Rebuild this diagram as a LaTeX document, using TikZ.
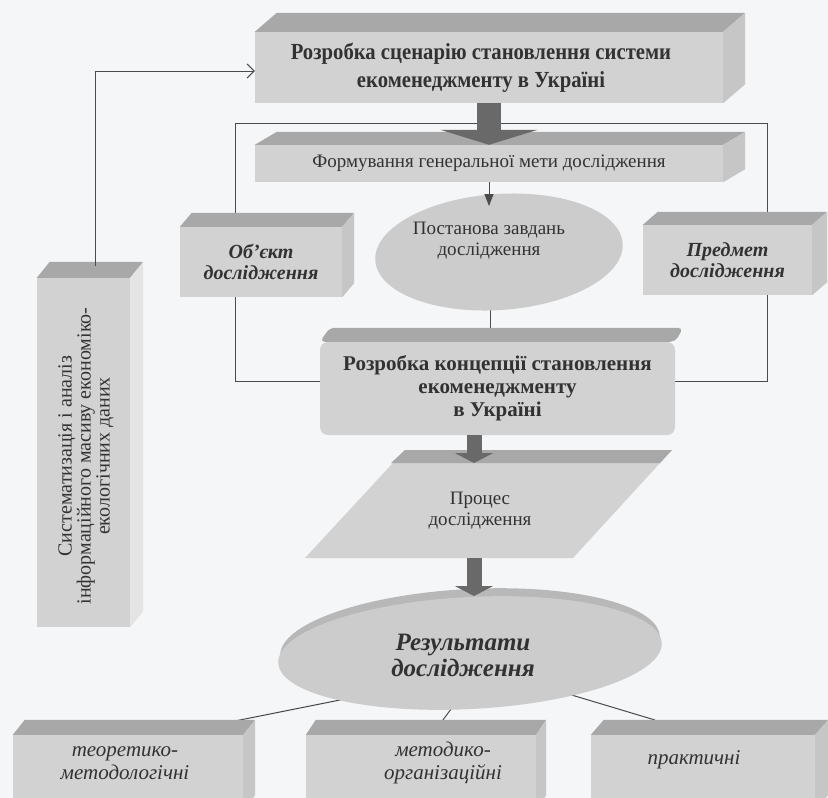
\documentclass[tikz,border=0pt]{standalone}
\usepackage{fontspec}
\setmainfont{Liberation Serif}
\newfontfamily\condserif[FakeStretch=0.9]{Liberation Serif}
\usetikzlibrary{arrows.meta,shapes.geometric}
\pgfdeclarelayer{bglayer}
\pgfdeclarelayer{linelayer}
\pgfsetlayers{bglayer,linelayer,main}
\definecolor{bgc}{RGB}{245,246,248}
\definecolor{frontc}{RGB}{210,210,210}
\definecolor{topc}{RGB}{168,168,168}
\definecolor{sidec}{RGB}{198,198,198}
\definecolor{sidelight}{RGB}{228,228,228}
\definecolor{ink}{RGB}{50,50,50}
\definecolor{linec}{RGB}{75,75,75}
\definecolor{arrowc}{RGB}{105,105,105}
\definecolor{ellc}{RGB}{204,204,204}
\definecolor{ellrim}{RGB}{184,184,184}
\newcommand\boxfaces[4]{%
  \fill[topc] (#1.north west) -- ++(#2,-#3) -- ([shift={(#2,-#3)}]#1.north east) -- (#1.north east) -- cycle;
  \fill[#4] (#1.north east) -- ++(#2,-#3) -- ([shift={(#2,-#3)}]#1.south east) -- (#1.south east) -- cycle;}
\newcommand\ftitle{\condserif\fontsize{23pt}{28pt}\selectfont\bfseries}
\newcommand\fbold{\fontsize{21pt}{23pt}\selectfont\bfseries}
\newcommand\freg{\fontsize{19pt}{21pt}\selectfont}
\newcommand\fside{\fontsize{20pt}{19pt}\selectfont}
\newcommand\fbi{\fontsize{20pt}{21pt}\selectfont\bfseries\itshape}
\newcommand\fbig{\fontsize{25pt}{26pt}\selectfont\bfseries\itshape}
\newcommand\fit{\fontsize{21pt}{23pt}\selectfont\itshape}
\tikzset{
  frontbox/.style={fill=frontc, inner sep=0pt, text=ink, align=center},
  txt/.style={text=ink, align=center, inner sep=0pt},
  thinline/.style={draw=linec, line width=1pt},
  bigarrow/.style={draw=arrowc, line width=24pt, -{Triangle[width=97pt,length=15pt]}},
  midarrow/.style={draw=arrowc, line width=15pt, -{Triangle[width=38pt,length=10pt]}},
  ellfill/.style={ellipse, fill=ellc, inner sep=0pt}
}
\begin{document}
\begin{tikzpicture}[x=1pt,y=-1pt]
\begin{pgfonlayer}{bglayer}
  \fill[bgc] (0,0) rectangle (828,798);
\end{pgfonlayer}
\useasboundingbox (0,0) rectangle (828,798);

% coordinates
\coordinate (fTL) at (235,123);
\coordinate (fTR) at (767,123);
\coordinate (fBL) at (235,381);
\coordinate (fBR) at (767,381);
\coordinate (tasktop) at (489,206);
\coordinate (taskbot) at (490,300);
\coordinate (pA) at (305,558);
\coordinate (pB) at (573,558);
\coordinate (pC) at (672,450);
\coordinate (pD) at (405,450);
\coordinate (proctop) at (474,463);
\coordinate (procbot) at (474,558);
\coordinate (restop) at (474,596);
\coordinate (r1) at (365,695);
\coordinate (r2) at (454,705);
\coordinate (r3) at (565,693);
\coordinate (b1t) at (230,722);
\coordinate (b2t) at (440,724);
\coordinate (b3t) at (655,720);

% top box
\node[frontbox, minimum width=468pt, minimum height=71pt, font=\ftitle] (title) at (489,67.5)
  {\makebox[0pt]{\hspace*{-16pt}Розробка сценарію становлення системи}\\\makebox[0pt]{\hspace*{-16pt}екоменеджменту в Україні}};
\boxfaces{title}{22}{19}{sidec}

% goal bar
\node[frontbox, minimum width=468pt, minimum height=37pt, font=\freg] (goal) at (489,163.5)
  {Формування генеральної мети дослідження};
\boxfaces{goal}{22}{13}{sidec}

% object / subject boxes
\node[frontbox, minimum width=162pt, minimum height=70pt, font=\fbi] (obj) at (261,262)
  {Об’єкт\\дослідження};
\boxfaces{obj}{12}{14}{sidec}
\node[frontbox, minimum width=169pt, minimum height=70pt, font=\fbi] (pred) at (727.5,260)
  {Предмет\\дослідження};
\boxfaces{pred}{15}{13}{sidec}

% task ellipse
\node[ellfill, minimum width=248pt, minimum height=116pt, rotate=4] (task) at (499,252) {};
\node[txt, font=\freg] (tasktxt) at (489,241) {Постанова завдань\\дослідження};

% concept box
\node[frontbox, rounded corners=8pt, minimum width=355pt, minimum height=93pt, font=\fbold] (konc) at (497.5,388.5)
  {Розробка концепції становлення\\екоменеджменту\\в Україні};
\fill[topc, rounded corners=5pt] (konc.north west) -- ++(10,-14) -- ([shift={(8,-14)}]konc.north east) -- (konc.north east) -- cycle;

% system box (left)
\node[frontbox, minimum width=93pt, minimum height=349pt] (sys) at (83.5,452.5) {};
\boxfaces{sys}{13}{16}{sidelight}
\node[txt, font=\fside, rotate=90] (systxt) at (86,456)
  {Систематизація і аналіз\\інформаційного масиву економіко-\\екологічних даних};

% process parallelogram
\fill[frontc] (pA) -- (pB) -- (pC) -- (pD) -- cycle;
\fill[topc] (pD) -- (pC) -- (660,463) -- (391,463) -- cycle;
\node[txt, font=\freg] (proc) at (480,511) {Процес\\дослідження};

% results ellipse
\fill[ellrim, rotate around={3:(470,646)}] (470,646) ellipse (190pt and 57pt);
\node[ellfill, minimum width=384pt, minimum height=112pt, rotate=3] (res) at (470,653) {};
\node[txt, font=\fbig] (restxt) at (463,655) {Результати\\дослідження};

% bottom boxes
\node[frontbox, minimum width=230pt, minimum height=75pt] (b1) at (128,772.5) {};
\boxfaces{b1}{12}{15}{sidec}
\node[frontbox, minimum width=230pt, minimum height=75pt] (b2) at (421,772.5) {};
\boxfaces{b2}{10}{15}{sidec}
\node[frontbox, minimum width=224pt, minimum height=75pt] (b3) at (703,772.5) {};
\boxfaces{b3}{13}{15}{sidec}
\node[txt, font=\fit] (b1txt) at (125,763) {теоретико-\\методологічні};
\node[txt, font=\fit] (b2txt) at (443,763) {методико-\\організаційні};
\node[txt, font=\fit] (b3txt) at (694,760) {практичні};

% lines behind boxes
\begin{pgfonlayer}{linelayer}
  \draw[thinline] (konc.west |- fBL) -- (fBL) -- (fTL) -- (fTR) -- (fBR) -- (konc.east |- fBR);
  \draw[thinline] (taskbot) -- (konc.north -| taskbot);
  \draw[thinline] (r1) -- (b1t);
  \draw[thinline] (r2) -- (b2t);
  \draw[thinline] (r3) -- (b3t);
\end{pgfonlayer}
\draw[thinline, -{Straight Barb[length=7pt,width=14pt]}] ([xshift=11.5pt,yshift=12pt]sys.north) |- ([yshift=-3.5pt]title.west);

% arrows on top
\draw[bigarrow] (title.south) -- (goal.north);
\draw[thinline, -{Triangle[width=9pt,length=12pt]}] (goal.south) -- (tasktop);
\draw[midarrow] ([xshift=-23.5pt]konc.south) -- (proctop);
\draw[midarrow] (procbot) -- (restop);
\end{tikzpicture}
\end{document}
